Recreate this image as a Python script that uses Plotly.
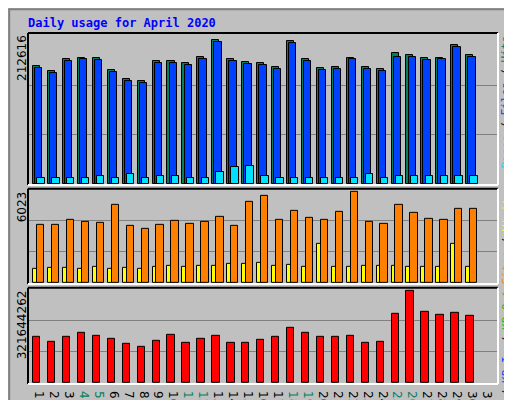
import plotly.graph_objects as go

days = list(range(1, 32))
weekend = [4, 5, 11, 12, 18, 19, 25, 26]
hits = [168960,161920,178816,181632,180224,163328,150656,147840,176000,176000,173184,183040,206976,178816,174592,
        173184,167552,205568,178816,166144,167552,181632,167552,164736,188672,185856,180224,181632,199936,185856]
files = [166100,159100,176000,178800,177400,160500,147800,145000,173200,173200,170400,180200,204200,176000,171800,
         170400,164700,202800,176000,163300,164700,178800,164700,161900,183000,183000,177400,178800,197100,183000]
pages = [8448,8448,8448,8448,11264,8448,14080,8448,11264,11264,8448,8448,16896,23936,25344,
         11264,8448,8448,8448,8448,8448,8448,14080,8448,11264,11264,11264,11264,11264,11264]
sites = [3741,3741,4058,3931,3867,5009,3677,3487,3741,3994,3804,3931,4248,3677,5199,
         5579,4058,4628,4184,4058,4565,5833,3931,3804,5009,4501,4121,4058,4755,4755]
visits = [888,951,951,888,1014,888,951,888,1014,1078,1014,1078,1078,1205,1205,
          1268,1078,1141,1014,2536,1014,1014,1078,1078,1078,1014,1014,1014,2536,1014]
kbf = [159.1e6,141.8e6,159.1e6,172.9e6,162.5e6,152.2e6,134.9e6,124.5e6,145.3e6,166.0e6,138.3e6,152.2e6,162.5e6,138.3e6,138.3e6,
       148.7e6,159.1e6,190.2e6,172.9e6,159.1e6,159.1e6,162.5e6,138.3e6,141.8e6,238.6e6,318.2e6,245.6e6,235.2e6,242.1e6,231.7e6]
max_hits, max_sites, max_kb = 212616, 6023, 321644262

d = days[:30]
fig = go.Figure()
line = dict(color="black", width=1)
def bar(y, color, off, w, ax):
    fig.add_trace(go.Bar(x=d, y=y, marker=dict(color=color, line=line), offset=off, width=w,
                         xaxis="x", yaxis=ax, showlegend=False, hoverinfo="skip"))
bar(hits, "#00805C", -0.53, 0.47, "y")
bar(files, "#0040FF", -0.39, 0.49, "y")
bar(pages, "#00E0FF", -0.25, 0.49, "y")
bar(visits, "#FFFF00", -0.53, 0.3, "y2")
bar(sites, "#FF8000", -0.27, 0.49, "y2")
bar(kbf, "#FF0000", -0.53, 0.49, "y3")

tt = [f"<span style='color:#00805C'>{i}</span>" if i in weekend else str(i) for i in days]
grid = dict(showgrid=True, gridcolor="#808080", gridwidth=1, showticklabels=False, zeroline=False, fixedrange=True)
fig.update_layout(
    width=512, height=400, margin=dict(l=20, r=22, t=25, b=24, autoexpand=False),
    paper_bgcolor="#C0C0C0", plot_bgcolor="#C0C0C0", barmode="overlay", bargap=0,
    font=dict(family="DejaVu Sans Mono", size=12, color="black"),
    xaxis=dict(anchor="y3", range=[0.13, 31.6], tickvals=days, ticktext=tt, showgrid=False, ticks="", zeroline=False,
               tickfont=dict(family="DejaVu Sans", size=12)),
    yaxis=dict(domain=[0.567, 1], range=[-max_hits*0.008, max_hits*1.02], tickvals=[max_hits/3, 2*max_hits/3], **grid),
    yaxis2=dict(domain=[0.285, 0.556], range=[-max_sites*0.01, max_sites*1.0], tickvals=[max_sites/3, 2*max_sites/3], **grid),
    yaxis3=dict(domain=[0, 0.274], range=[-max_kb*0.01, max_kb*1.02], tickvals=[max_kb/3, 2*max_kb/3], **grid),
)
shapes = [dict(type="rect", xref="paper", yref="paper", x0=-0.04, x1=1.045, y0=-0.066, y1=1.068,
               line=dict(color="#808080", width=2), layer="below")]
for y0, y1 in [(0.567, 1), (0.285, 0.556), (0, 0.274)]:
    shapes.append(dict(type="line", xref="paper", yref="paper", x0=0, x1=0, y0=y0, y1=y1, line=dict(color="black", width=2)))
    shapes.append(dict(type="line", xref="paper", yref="paper", x0=0, x1=1, y0=y1, y1=y1, line=dict(color="black", width=2)))
    shapes.append(dict(type="line", xref="paper", yref="paper", x0=1, x1=1, y0=y0, y1=y1, line=dict(color="white", width=2)))
    shapes.append(dict(type="line", xref="paper", yref="paper", x0=0, x1=1, y0=y0, y1=y0, line=dict(color="white", width=2)))
fig.update_layout(shapes=shapes)

ann = [dict(text="<b>Daily usage for April 2020</b>", x=-0.004, y=1.028, xanchor="left", yanchor="middle",
            font=dict(color="#0000FF", size=12, family="DejaVu Sans Mono"))]
for label, ydom in [(f"{max_hits}", 1.0), (f"{max_sites}", 0.556), (f"{max_kb}", 0.274)]:
    ann.append(dict(text=label, textangle=-90, x=-0.0128, y=ydom, xanchor="center", yanchor="top",
                    font=dict(size=12, family="DejaVu Sans")))
rl = [("<span style='color:#00E0FF'>Pages</span> / <span style='color:#0040FF'>Files</span> / <span style='color:#00805C'>Hits</span>", 1.0),
      ("<span style='color:#FF8000'>Sites</span> / <span style='color:#FFFF00'>Visits</span>", 0.556),
      ("<span style='color:#FF0000'>KB F</span> / <span style='color:#0040FF'>KB In</span> / <span style='color:#00C000'>KB Out</span>", 0.274)]
for label, ydom in rl:
    ann.append(dict(text=label, textangle=-90, x=1.017, y=ydom, xanchor="center", yanchor="top",
                    font=dict(size=11, family="DejaVu Sans Mono")))
for a in ann:
    a["xref"] = "paper"; a["yref"] = "paper"; a["showarrow"] = False
fig.update_layout(annotations=ann)
fig.write_html("out.html")
